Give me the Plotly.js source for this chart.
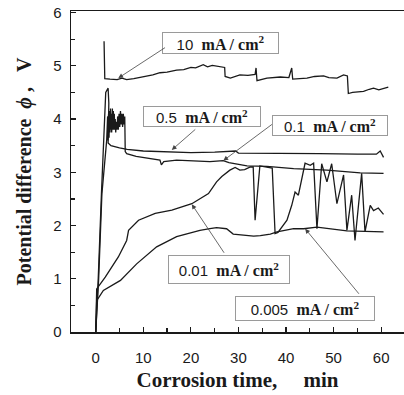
<!DOCTYPE html>
<html>
<head>
<meta charset="utf-8">
<script src="https://cdn.plot.ly/plotly-3.0.1.min.js"></script>
<style>html,body{margin:0;padding:0;background:#fff;}#chart{width:404px;height:395px;}</style>
</head>
<body>
<div id="chart"></div>
<script>
// ---- data ----
var t10 = [1.75,1.8,1.85,1.9,3,4.5,5.5,6.5,8,10,12,13.5,15,17,18.5,20,21,22.6,23.5,24.5,26.1,27.1,27.2,28.3,30.3,32,33.5,33.7,33.9,36,38.8,40.6,41.2,41.4,44.4,46,47.9,49,50.7,52.1,52.9,53.1,54,56.3,57.5,58.4,59.5,61.5];
var v10 = [5.46,5.1,5.2,4.76,4.75,4.74,4.77,4.74,4.76,4.79,4.83,4.87,4.88,4.92,4.93,4.97,4.96,5.02,4.98,5.01,4.99,4.97,4.8,4.77,4.83,4.82,4.84,4.96,4.72,4.77,4.79,4.78,4.96,4.75,4.77,4.8,4.81,4.78,4.77,4.83,4.81,4.48,4.5,4.52,4.56,4.58,4.55,4.6];

var t05 = [0,0.5,1.2,2.1,2.6,2.75,2.6,3.2,5,6.6,10,13.5,20,25,29.4,30,35,41,47,55,59,59.8,60.5];
var v05 = [0,0.95,2.6,4.5,4.58,4.3,3.55,3.5,3.46,3.43,3.4,3.39,3.37,3.38,3.4,3.36,3.36,3.35,3.35,3.34,3.34,3.4,3.28];

var t01 = [0,0.6,1.3,2.3,2.5,2.55,2.6,2.7,2.75,2.8,2.9,2.95,3.0,3.1,3.15,3.2,3.3,3.35,3.4,3.5,3.55,3.6,3.7,3.75,3.8,3.9,3.95,4.0,4.1,4.15,4.2,4.3,4.35,4.45,4.55,4.6,4.75,4.8,4.9,5.05,5.1,5.2,5.35,5.4,5.5,5.65,5.7,5.8,5.95,6.0,6.1,6.2,6.5,8.5,11.8,13.5,13.8,14.3,17,20.5,24,26.8,28,31.8,33,36,41.6,48.6,55.6,60.5];
var v01 = [0,0.97,2.6,3.6,4.05,3.6,3.7,4.1,3.7,3.65,4.15,3.8,3.75,4.2,3.9,3.8,4.1,3.75,3.85,4.2,3.8,3.9,4.15,3.8,3.85,4.1,3.9,3.8,4.0,3.85,3.75,3.95,3.85,3.8,3.9,4.05,3.8,4.0,4.1,3.85,4.05,4.15,3.9,4.0,4.1,3.85,4.0,4.1,3.9,4.05,4.05,3.39,3.35,3.3,3.26,3.23,3.14,3.2,3.23,3.22,3.2,3.22,3.18,3.12,3.12,3.11,3.07,3.04,2.99,2.98];

var t001 = [0,0.2,2.0,3.0,4.75,6.5,6.9,9.0,12.5,16,20.2,23.7,25.4,26.5,28.2,29.3,30.3,31.3,32.5,33.1,33.5,34.5,36.3,37.1,37.7,38.3,40.2,41.2,41.9,42.6,44,45.1,45.8,46.5,47.5,48.6,49.6,50.7,52.1,52.8,53.8,54.5,55.9,56.6,57.7,58.4,59.4,60.5];
var v001 = [0,0.81,1.03,1.16,1.41,1.72,1.91,2.1,2.23,2.29,2.41,2.6,2.82,2.92,3.04,3.09,3.04,3.05,3.1,3.1,2.1,3.12,3.1,3.08,1.85,1.87,2.1,2.38,2.63,2.57,3.17,3.13,3.17,1.94,3.16,2.82,3.16,2.41,2.95,1.91,2.57,1.72,2.98,1.88,2.38,2.28,2.33,2.21];

var t0005 = [0,0.2,1.6,5.2,8.6,12.8,17,21.9,24,25.4,27.5,28.9,33.2,34.6,36.7,38.1,41.6,43.7,46.5,52.8,60.5];
var v0005 = [0,0.59,0.78,0.97,1.28,1.6,1.79,1.91,1.94,1.96,1.94,1.84,1.8,1.81,1.84,1.88,1.94,1.94,1.97,1.9,1.88];

var seriesNames = ['10 mA / cm²','0.5 mA / cm²','0.1 mA / cm²','0.01 mA / cm²','0.005 mA / cm²'];
var labelNums = ['10','0.5','0.1','0.01','0.005'];
var xTickVals = [0,10,20,30,40,50,60];
var xTickText = ['0','10','20','30','40','50','60'];
var yTickVals = [0,1,2,3,4,5,6];
var yTickText = ['0','1','2','3','4','5','6'];

// ---- label positions (data coords) ----
var boxX = [26.14,22.36,49.27,28.07,44.02];
var boxY = [5.42,4.05,3.88,1.17,0.45];
var boxW = [117,118,116,122,140];
var boxH = [22,21,21,29,25];
var tailX = [14.88,21.24,37.35,27.19,55.58];
var tailY = [5.36,3.83,3.92,1.46,0.69];
var headX = [4.75,15.98,26.83,20.19,44.02];
var headY = [4.77,3.42,3.22,2.40,1.94];

var xs = [t10,t05,t01,t001,t0005];
var ys = [v10,v05,v01,v001,v0005];
var traces = xs.map(function(x,i){
  return {x:x, y:ys[i], type:'scatter', mode:'lines', name:seriesNames[i],
    line:{color:'#1a1a1a', width:1.3}, showlegend:false, hoverinfo:'skip'};
});

var ann = [];
for (var i=0;i<5;i++){
  ann.push({x:boxX[i], y:boxY[i], xref:'x', yref:'y', showarrow:false,
    text: labelNums[i] + '  <span style="font-family:\'Liberation Serif\',serif;font-weight:bold;font-size:16px">mA / cm<sup>2</sup></span>',
    font:{family:'Liberation Sans, Arial, sans-serif', size:15, color:'#1a1a1a'},
    bgcolor:'#ffffff', bordercolor:'#9a9a9a', borderwidth:1, borderpad:0,
    width:boxW[i]-2, height:boxH[i]-2, align:'center', valign:'middle'});
  ann.push({x:headX[i], y:headY[i], xref:'x', yref:'y', ax:tailX[i], ay:tailY[i],
    axref:'x', ayref:'y', text:'', showarrow:true, arrowhead:2, arrowsize:1.2,
    arrowwidth:0.8, arrowcolor:'#444'});
}

var layout = {
  width:404, height:395,
  margin:{l:71, r:0, t:11, b:63},
  paper_bgcolor:'#fff', plot_bgcolor:'#fff',
  showlegend:false,
  font:{family:'Liberation Sans, Arial, sans-serif', color:'#1a1a1a'},
  xaxis:{range:[-5.2,64.8], showgrid:false, zeroline:false,
    showline:true, linecolor:'#1a1a1a', linewidth:1.5, mirror:true,
    tickmode:'array', tickvals:xTickVals, ticktext:xTickText,
    ticks:'inside', ticklen:5, tickwidth:1.2, tickcolor:'#1a1a1a',
    minor:{tickvals:[5,15,25,35,45,55], ticks:'inside', ticklen:4, tickwidth:1.2, tickcolor:'#1a1a1a'},
    tickfont:{family:'Liberation Sans, Arial, sans-serif', size:15, color:'#1a1a1a'},
    ticklabelstandoff:11,
    title:{text:'Corrosion time,     min', standoff:8,
      font:{family:'Liberation Serif, Times New Roman, serif', size:21, color:'#1a1a1a', weight:'bold'}}},
  yaxis:{range:[0,6.03], showgrid:false, zeroline:false,
    showline:true, linecolor:'#1a1a1a', linewidth:1.5, mirror:false,
    tickmode:'array', tickvals:yTickVals, ticktext:yTickText,
    ticks:'inside', ticklen:5, tickwidth:1.2, tickcolor:'#1a1a1a',
    minor:{tickvals:[0.5,1.5,2.5,3.5,4.5,5.5], ticks:'inside', ticklen:4, tickwidth:1.2, tickcolor:'#1a1a1a'},
    tickfont:{family:'Liberation Sans, Arial, sans-serif', size:15, color:'#1a1a1a'},
    ticklabelstandoff:5,
    title:{text:'Potential difference  <i>ϕ</i> ,   V', standoff:16,
      font:{family:'Liberation Serif, Times New Roman, serif', size:20, color:'#1a1a1a', weight:'bold'}}},
  annotations:ann
};

Plotly.newPlot('chart', traces, layout, {staticPlot:true, displayModeBar:false});
</script>
</body>
</html>
